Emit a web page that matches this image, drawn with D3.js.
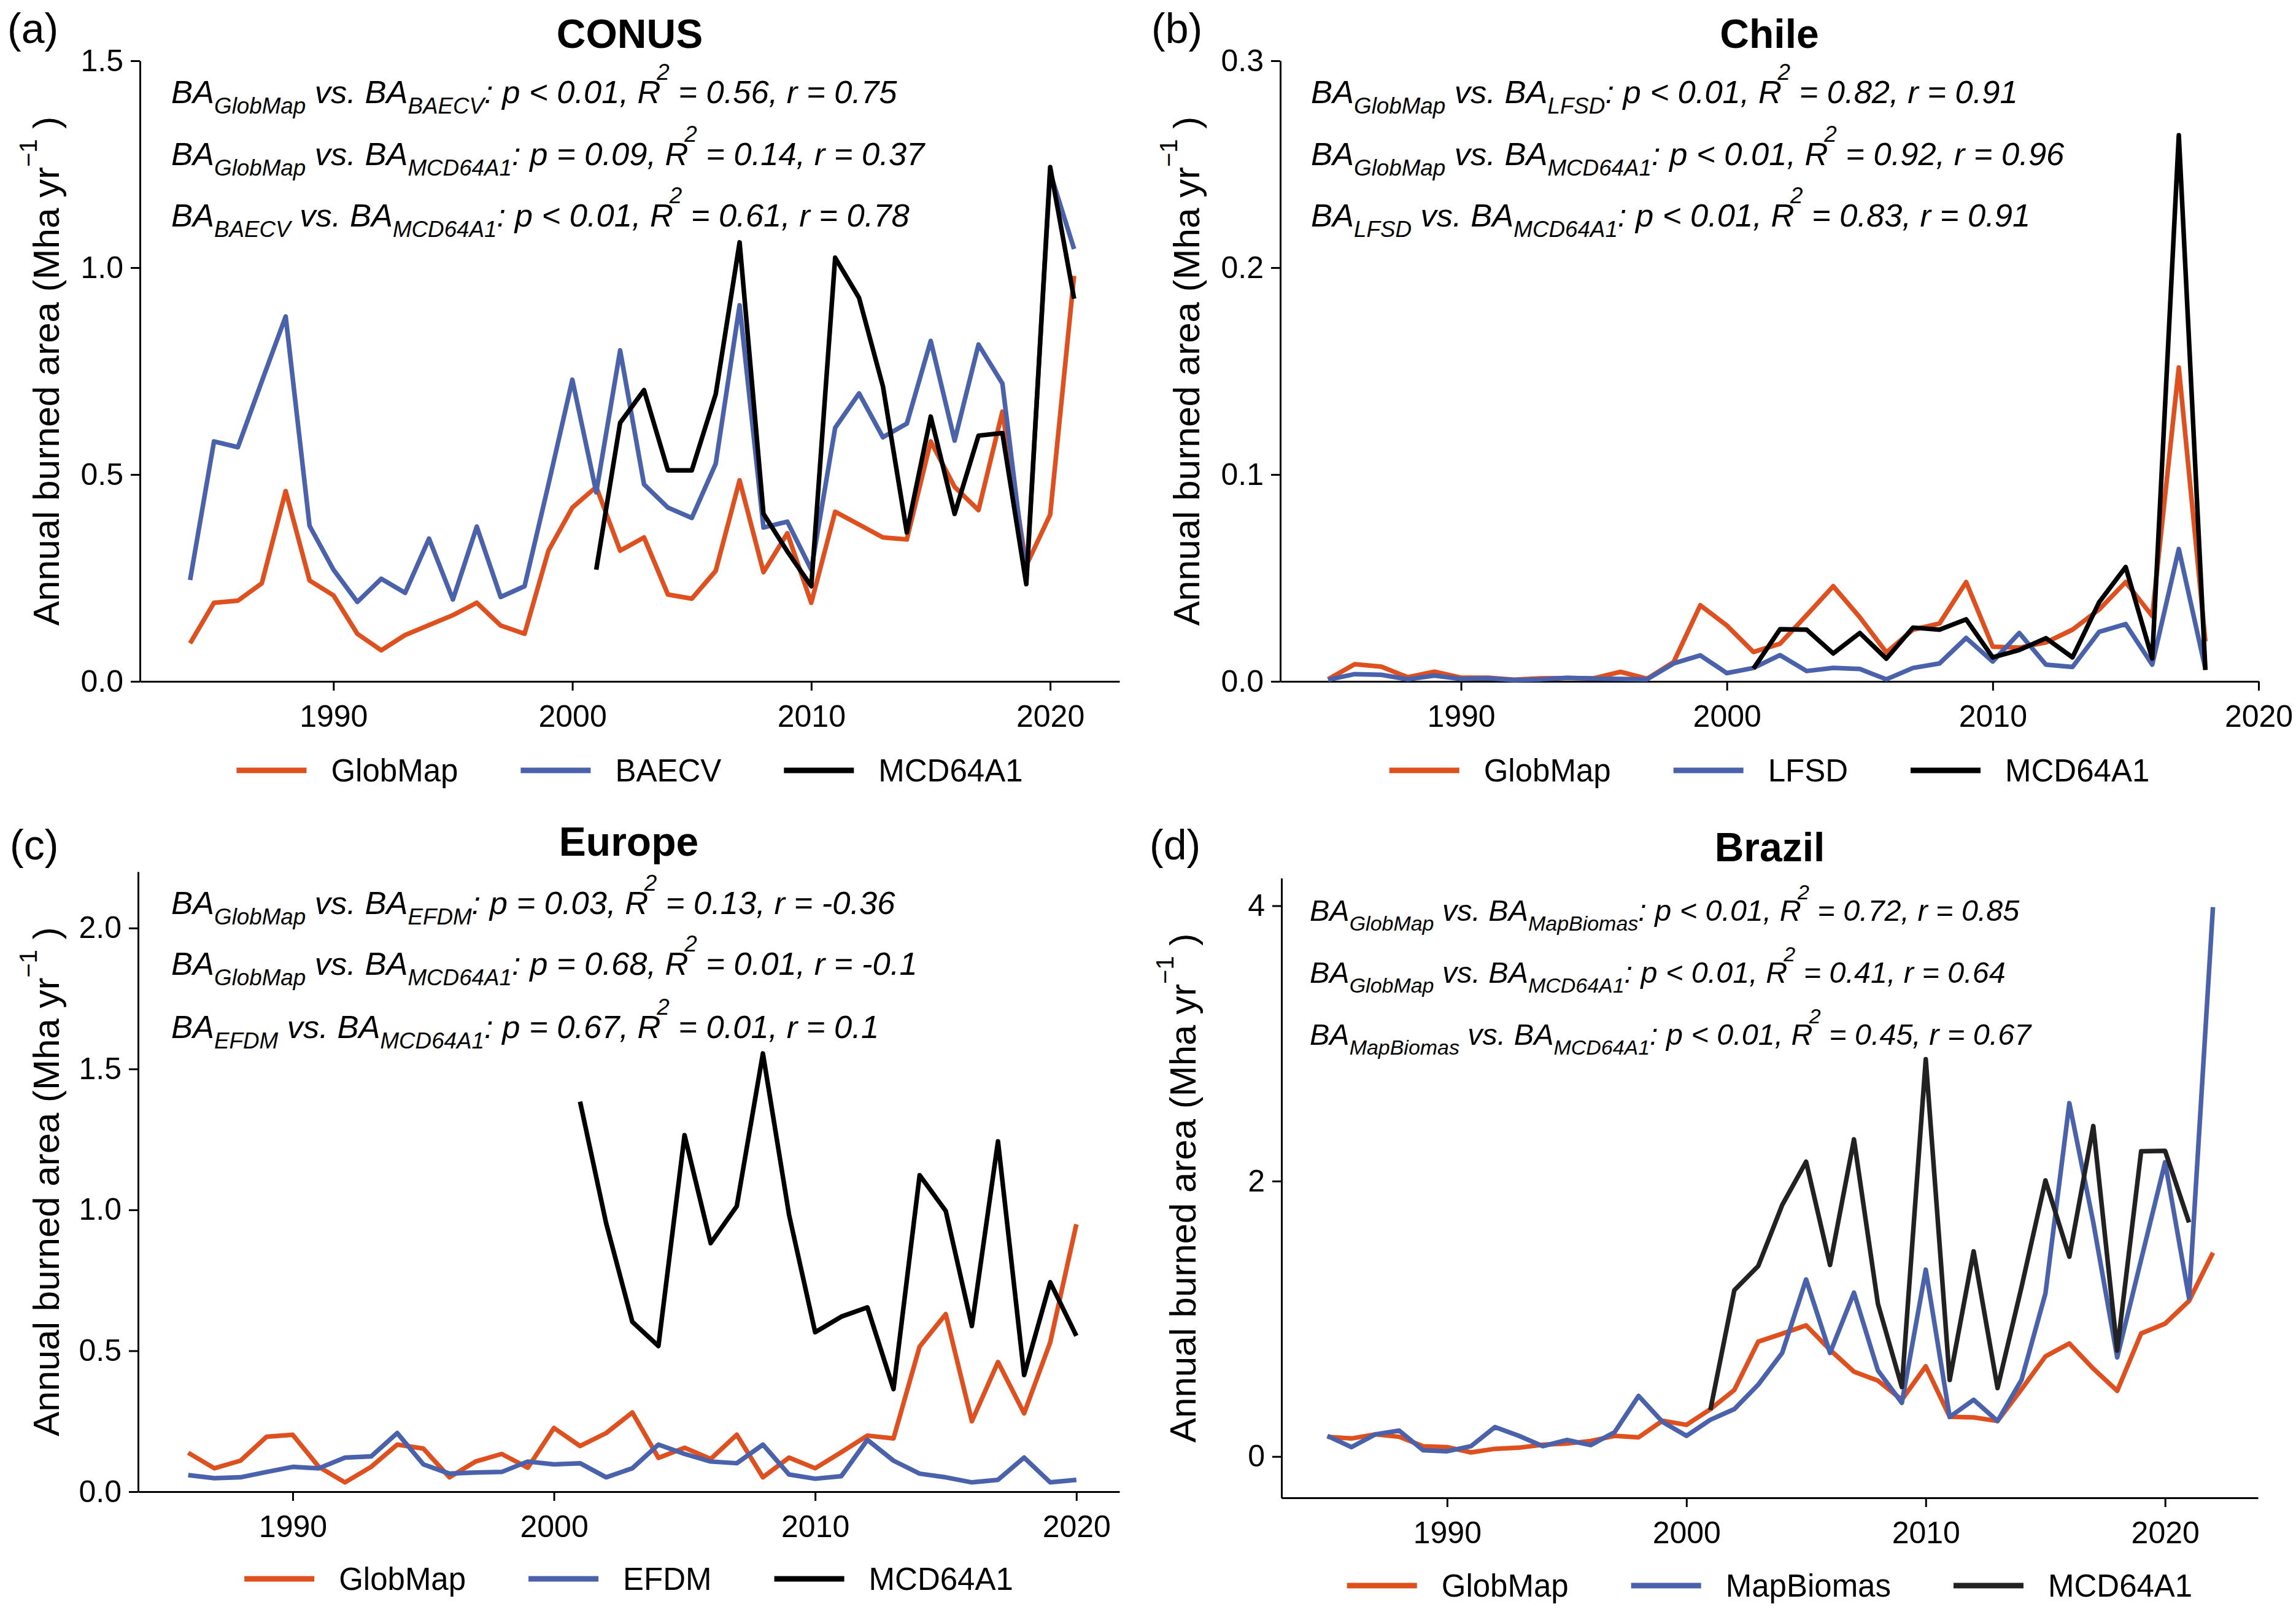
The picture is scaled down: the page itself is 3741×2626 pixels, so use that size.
<!DOCTYPE html>
<html>
<head>
<meta charset="utf-8">
<script src="https://cdn.jsdelivr.net/npm/d3@7"></script>
<style>
  body { margin: 0; background: #fff; }
  svg { display: block; }
</style>
</head>
<body>
<script>
// ---------------- data (Mha per year) ----------------

const xTickYears = [1990, 2000, 2010, 2020];

// (a) CONUS
const conusStart = 1984;        // GlobMap + BAECV: 1984-2021
const conusMcdStart = 2001;     // MCD64A1: 2001-2021
const conusGlobMap = [0.092, 0.19, 0.195, 0.237, 0.46, 0.244, 0.208, 0.115, 0.075, 0.112, 0.136, 0.16, 0.19, 0.135, 0.115, 0.316, 0.42, 0.47, 0.316, 0.348, 0.21, 0.2, 0.267, 0.486, 0.264, 0.358, 0.19, 0.41, 0.379, 0.348, 0.343, 0.58, 0.47, 0.414, 0.652, 0.28, 0.403, 0.98];
const conusBAECV = [0.245, 0.58, 0.566, 0.725, 0.882, 0.376, 0.27, 0.192, 0.248, 0.214, 0.345, 0.198, 0.374, 0.204, 0.23, 0.476, 0.729, 0.457, 0.8, 0.476, 0.42, 0.395, 0.526, 0.909, 0.372, 0.386, 0.27, 0.613, 0.696, 0.59, 0.623, 0.823, 0.582, 0.814, 0.72, 0.248, 1.23, 1.045];
const conusMCD = [0.27, 0.625, 0.704, 0.51, 0.51, 0.694, 1.061, 0.405, 0.314, 0.23, 1.024, 0.927, 0.713, 0.36, 0.64, 0.405, 0.594, 0.6, 0.235, 1.243, 0.925];

// (b) Chile
const chileStart = 1985;        // GlobMap + LFSD: 1985-2018
const chileMcdStart = 2001;     // MCD64A1: 2001-2018
const chileGlobMap = [0.001, 0.0083, 0.0071, 0.002, 0.0047, 0.0018, 0.0018, 0.0008, 0.0015, 0.0016, 0.0015, 0.0046, 0.0013, 0.0094, 0.0368, 0.027, 0.0142, 0.0182, 0.032, 0.046, 0.031, 0.014, 0.025, 0.028, 0.048, 0.0168, 0.0163, 0.0188, 0.025, 0.0347, 0.048, 0.0316, 0.1517, 0.0193];
const chileLFSD = [0.0008, 0.0035, 0.0032, 0.001, 0.0028, 0.0012, 0.0015, 0.0007, 0.001, 0.0017, 0.0013, 0.0012, 0.001, 0.0087, 0.0126, 0.004, 0.0065, 0.0127, 0.005, 0.0065, 0.006, 0.001, 0.0065, 0.0087, 0.021, 0.0096, 0.0234, 0.0081, 0.007, 0.0239, 0.0277, 0.0081, 0.064, 0.006];
const chileMCD = [0.0062, 0.0252, 0.025, 0.0135, 0.0234, 0.011, 0.026, 0.025, 0.030, 0.0116, 0.0152, 0.0209, 0.0116, 0.0382, 0.0553, 0.0111, 0.264, 0.0055];

// (c) Europe
const europeStart = 1986;       // GlobMap + EFDM: 1986-2020
const europeMcdStart = 2001;    // MCD64A1: 2001-2020
const europeGlobMap = [0.138, 0.083, 0.11, 0.195, 0.202, 0.088, 0.033, 0.088, 0.167, 0.153, 0.051, 0.107, 0.134, 0.085, 0.226, 0.162, 0.208, 0.281, 0.12, 0.156, 0.116, 0.202, 0.051, 0.121, 0.083, 0.14, 0.199, 0.189, 0.515, 0.63, 0.25, 0.46, 0.278, 0.53, 0.949];
const europeEFDM = [0.059, 0.048, 0.051, 0.07, 0.088, 0.083, 0.121, 0.125, 0.208, 0.097, 0.064, 0.068, 0.07, 0.107, 0.097, 0.101, 0.051, 0.083, 0.167, 0.134, 0.107, 0.101, 0.167, 0.061, 0.046, 0.055, 0.184, 0.11, 0.064, 0.051, 0.033, 0.042, 0.121, 0.033, 0.042];
const europeMCD = [1.384, 0.952, 0.603, 0.517, 1.265, 0.882, 1.013, 1.555, 0.983, 0.566, 0.621, 0.654, 0.364, 1.123, 0.996, 0.588, 1.243, 0.414, 0.743, 0.553];

// (d) Brazil
const brazilStart = 1985;       // GlobMap + MapBiomas: 1985-2022
const brazilMcdStart = 2001;    // MCD64A1: 2001-2021
const brazilGlobMap = [0.143, 0.131, 0.161, 0.143, 0.075, 0.068, 0.03, 0.056, 0.064, 0.086, 0.094, 0.113, 0.15, 0.139, 0.26, 0.23, 0.344, 0.483, 0.834, 0.892, 0.952, 0.775, 0.616, 0.551, 0.412, 0.655, 0.289, 0.284, 0.258, 0.488, 0.727, 0.821, 0.638, 0.477, 0.894, 0.965, 1.13, 1.48];
const brazilMapBiomas = [0.15, 0.068, 0.161, 0.188, 0.045, 0.038, 0.075, 0.214, 0.15, 0.075, 0.12, 0.083, 0.177, 0.44, 0.252, 0.15, 0.267, 0.344, 0.522, 0.752, 1.286, 0.752, 1.19, 0.625, 0.39, 1.357, 0.287, 0.412, 0.258, 0.556, 1.183, 2.566, 1.7, 0.72, 1.43, 2.137, 1.15, 3.99];
const brazilMCD = [0.338, 1.207, 1.383, 1.826, 2.141, 1.391, 2.303, 1.11, 0.505, 2.885, 0.556, 1.49, 0.497, 1.23, 2.005, 1.451, 2.4, 0.77, 2.217, 2.22, 1.70];

// statistics per line: [first product, second product, p text, R², r]
const conusStats = [
  ['GlobMap', 'BAECV', 'p < 0.01', '0.56', '0.75'],
  ['GlobMap', 'MCD64A1', 'p = 0.09', '0.14', '0.37'],
  ['BAECV', 'MCD64A1', 'p < 0.01', '0.61', '0.78']
];
const chileStats = [
  ['GlobMap', 'LFSD', 'p < 0.01', '0.82', '0.91'],
  ['GlobMap', 'MCD64A1', 'p < 0.01', '0.92', '0.96'],
  ['LFSD', 'MCD64A1', 'p < 0.01', '0.83', '0.91']
];
const europeStats = [
  ['GlobMap', 'EFDM', 'p = 0.03', '0.13', '-0.36'],
  ['GlobMap', 'MCD64A1', 'p = 0.68', '0.01', '-0.1'],
  ['EFDM', 'MCD64A1', 'p = 0.67', '0.01', '0.1']
];
const brazilStats = [
  ['GlobMap', 'MapBiomas', 'p < 0.01', '0.72', '0.85'],
  ['GlobMap', 'MCD64A1', 'p < 0.01', '0.41', '0.64'],
  ['MapBiomas', 'MCD64A1', 'p < 0.01', '0.45', '0.67']
];

// ---------------- style ----------------
const W = 3741, H = 2626;
const orange = '#DF501E';
const blue = '#4A61AB';
const fontFamily = "'Liberation Sans', Arial, Helvetica, sans-serif";

const svg = d3.select('body').append('svg')
  .attr('width', W)
  .attr('height', H)
  .attr('viewBox', [0, 0, W, H])
  .style('font-family', fontFamily);

svg.append('rect').attr('width', W).attr('height', H).attr('fill', '#fff');

const toPoints = (start, values) => values.map((v, i) => ({ year: start + i, value: v }));

function drawPanel(p) {
  const g = svg.append('g');
  const x = d3.scaleLinear().domain(p.xDomain).range(p.xRange);
  const y = d3.scaleLinear().domain(p.yDomain).range(p.yRange);

  // ---- axes
  const xAxis = g.append('g')
    .attr('transform', `translate(0,${p.yRange[0]})`)
    .call(d3.axisBottom(x).tickValues(xTickYears).tickFormat(d3.format('d'))
      .tickSize(15).tickSizeOuter(0).tickPadding(23));
  const yAxis = g.append('g')
    .attr('transform', `translate(${p.xRange[0]},0)`)
    .call(d3.axisLeft(y).tickValues(p.yTicks).tickFormat(d3.format(p.yFmt))
      .tickSize(15).tickSizeOuter(0).tickPadding(12));

  [xAxis, yAxis].forEach((ax) => {
    ax.attr('font-family', fontFamily).attr('font-size', 50);
    ax.selectAll('path, line').attr('stroke', '#000').attr('stroke-width', 3);
    ax.selectAll('text').attr('fill', '#000');
  });

  // ---- lines
  const line = d3.line().x((d) => x(d.year)).y((d) => y(d.value));
  p.series.forEach((s) => {
    g.append('path')
      .datum(toPoints(s.start, s.values))
      .attr('d', line)
      .attr('fill', 'none')
      .attr('stroke', s.color)
      .attr('stroke-width', 7.5)
      .attr('stroke-linejoin', 'round')
      .attr('stroke-linecap', 'butt');
  });

  // ---- title & panel letter
  const cx = (p.xRange[0] + p.xRange[1]) / 2;
  g.append('text').attr('x', cx).attr('y', p.titleY)
    .attr('text-anchor', 'middle').attr('font-weight', 'bold').attr('font-size', 66)
    .text(p.title);
  g.append('text').attr('x', p.letterX).attr('y', p.letterY)
    .attr('font-size', 68).text(p.letter);

  // ---- y label
  const cy = (p.yRange[0] + p.yRange[1]) / 2;
  const yl = g.append('text')
    .attr('transform', `translate(${p.ylabelX},${cy}) rotate(-90)`)
    .attr('text-anchor', 'middle').attr('font-size', 60);
  yl.append('tspan').text('Annual burned area (Mha yr');
  yl.append('tspan').attr('font-size', 40).attr('dy', -36).text('\u22121');
  yl.append('tspan').attr('dy', 36).text(' )');

  // ---- statistics
  const fs = p.annSize, sub = fs * 0.7, subDy = fs * 0.32, supDy = fs * 0.72;
  p.stats.forEach((st, i) => {
    const t = g.append('text').attr('x', p.annX).attr('y', p.annY[i])
      .attr('font-size', fs).attr('font-style', 'italic');
    t.append('tspan').text('BA');
    t.append('tspan').attr('font-size', sub).attr('dy', subDy).text(st[0]);
    t.append('tspan').attr('dy', -subDy).text(' vs. BA');
    t.append('tspan').attr('font-size', sub).attr('dy', subDy).text(st[1]);
    t.append('tspan').attr('dy', -subDy).text(`: ${st[2]}, R`);
    t.append('tspan').attr('font-size', sub).attr('dx', -fs * 0.12).attr('dy', -supDy).text('2');
    t.append('tspan').attr('dy', supDy).text(` = ${st[3]}, r = ${st[4]}`);
  });

  // ---- legend (centred under the plot)
  const lg = g.append('g');
  const lineLen = 114, textGap = 40, itemGap = 102;
  let cursor = 0;
  p.series.forEach((s) => {
    const it = lg.append('g').attr('transform', `translate(${cursor},0)`);
    it.append('line').attr('x1', 0).attr('x2', lineLen).attr('y1', 0).attr('y2', 0)
      .attr('stroke', s.color).attr('stroke-width', 9);
    const tx = it.append('text').attr('x', lineLen + textGap).attr('y', 18)
      .attr('font-size', 51).text(s.name);
    cursor += lineLen + textGap + tx.node().getComputedTextLength() + itemGap;
  });
  const total = cursor - itemGap;
  lg.attr('transform', `translate(${cx - total / 2},${p.legendY})`);
}

const panels = [
  {
    title: 'CONUS', letter: '(a)', letterX: 12, letterY: 70, titleY: 78,
    xRange: [228, 1824], xDomain: [1981.9, 2022.9],
    yRange: [1110, 99], yDomain: [0, 1.5], yTicks: [0, 0.5, 1.0, 1.5], yFmt: '.1f',
    ylabelX: 96, annX: 279, annY: [168, 269, 369], annSize: 52.5, legendY: 1255,
    stats: conusStats,
    series: [
      { name: 'GlobMap', start: conusStart, values: conusGlobMap, color: orange },
      { name: 'BAECV', start: conusStart, values: conusBAECV, color: blue },
      { name: 'MCD64A1', start: conusMcdStart, values: conusMCD, color: '#000' }
    ]
  },
  {
    title: 'Chile', letter: '(b)', letterX: 1876, letterY: 70, titleY: 78,
    xRange: [2086, 3680], xDomain: [1983.2, 2020.0],
    yRange: [1110, 99], yDomain: [0, 0.3], yTicks: [0, 0.1, 0.2, 0.3], yFmt: '.1f',
    ylabelX: 1954, annX: 2136, annY: [168, 269, 369], annSize: 52.5, legendY: 1255,
    stats: chileStats,
    series: [
      { name: 'GlobMap', start: chileStart, values: chileGlobMap, color: orange },
      { name: 'LFSD', start: chileStart, values: chileLFSD, color: blue },
      { name: 'MCD64A1', start: chileMcdStart, values: chileMCD, color: '#000' }
    ]
  },
  {
    title: 'Europe', letter: '(c)', letterX: 16, letterY: 1400, titleY: 1394,
    xRange: [225, 1824], xDomain: [1984.08, 2021.65],
    yRange: [2430, 1420], yDomain: [0, 2.2], yTicks: [0, 0.5, 1.0, 1.5, 2.0], yFmt: '.1f',
    ylabelX: 96, annX: 279, annY: [1489, 1588, 1691], annSize: 52.5, legendY: 2572,
    stats: europeStats,
    series: [
      { name: 'GlobMap', start: europeStart, values: europeGlobMap, color: orange },
      { name: 'EFDM', start: europeStart, values: europeEFDM, color: blue },
      { name: 'MCD64A1', start: europeMcdStart, values: europeMCD, color: '#000' }
    ]
  },
  {
    title: 'Brazil', letter: '(d)', letterX: 1873, letterY: 1400, titleY: 1403,
    xRange: [2088, 3679], xDomain: [1983.08, 2023.88],
    yRange: [2440, 1430.6], yDomain: [-0.3, 4.2], yTicks: [0, 2, 4], yFmt: 'd',
    ylabelX: 1948, annX: 2134, annY: [1500, 1601, 1702], annSize: 48.5, legendY: 2583,
    stats: brazilStats,
    series: [
      { name: 'GlobMap', start: brazilStart, values: brazilGlobMap, color: orange },
      { name: 'MapBiomas', start: brazilStart, values: brazilMapBiomas, color: blue },
      { name: 'MCD64A1', start: brazilMcdStart, values: brazilMCD, color: '#222' }
    ]
  }
];

panels.forEach(drawPanel);
</script>
</body>
</html>
